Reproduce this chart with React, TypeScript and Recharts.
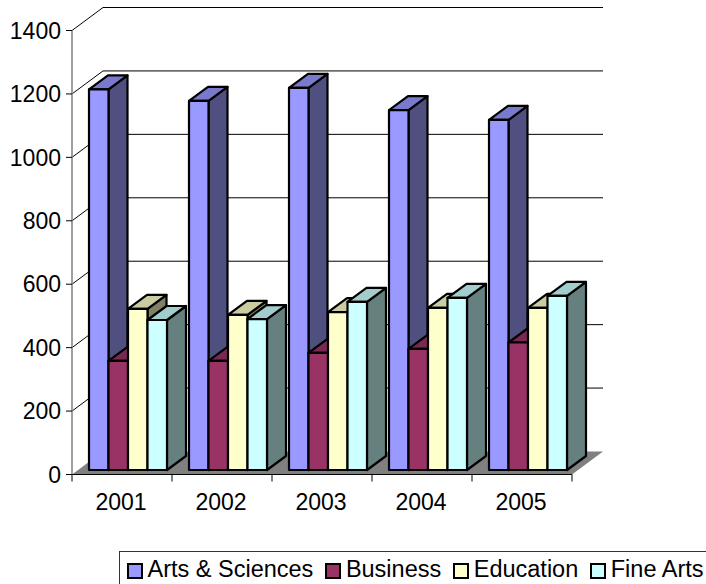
import { BarChart, Bar, XAxis, YAxis, CartesianGrid, Legend } from "recharts";

const years = ["2001", "2002", "2003", "2004", "2005"];
const artsSciences = [1200, 1164, 1205, 1135, 1104];
const business = [344, 344, 369, 382, 402];
const education = [508, 489, 498, 511, 511];
const fineArts = [473, 476, 530, 543, 549];
const yTicks = [0, 200, 400, 600, 800, 1000, 1200, 1400];

const rows = years.map((year, i) => ({
  year,
  arts: artsSciences[i],
  business: business[i],
  education: education[i],
  fine: fineArts[i],
}));

const FONT = "'Liberation Sans', Arial, sans-serif";
const BOTTOM = 474.5;

// wall depth and bar depth of the fake 3d box
const WALL_DX = 31;
const WALL_DY = -23;
const BAR_DX = 19;
const BAR_DY = -14;
const BAR_OFFSET_X = 6;
const BAR_OFFSET_Y = -4.5;

function GridLine(props: any) {
  const { x1, x2, y1 } = props;
  const isFloor = Math.abs(y1 - BOTTOM) < 1;
  return (
    <g>
      {isFloor && (
        <polygon
          points={`${x1},${y1} ${x2},${y1} ${x2 + WALL_DX},${y1 + WALL_DY} ${x1 + WALL_DX},${y1 + WALL_DY}`}
          fill="#808080"
        />
      )}
      {!isFloor && (
        <path
          d={`M${x1},${y1} L${x1 + WALL_DX},${y1 + WALL_DY} L${x2 + WALL_DX},${y1 + WALL_DY}`}
          fill="none"
          stroke="#000"
          strokeWidth={1}
        />
      )}
    </g>
  );
}

function box(fill: string, top: string, side: string) {
  return function Box3d(props: any) {
    const { x, y, width, height } = props;
    const fx = x + BAR_OFFSET_X;
    const fy = y + BAR_OFFSET_Y;
    const r = fx + width;
    const b = fy + height;
    return (
      <g stroke="#000" strokeWidth={2.2} strokeLinejoin="round">
        <polygon
          points={`${r},${fy} ${r + BAR_DX},${fy + BAR_DY} ${r + BAR_DX},${b + BAR_DY} ${r},${b}`}
          fill={side}
        />
        <polygon
          points={`${fx},${fy} ${fx + BAR_DX},${fy + BAR_DY} ${r + BAR_DX},${fy + BAR_DY} ${r},${fy}`}
          fill={top}
        />
        <rect x={fx} y={fy} width={width} height={height} fill={fill} />
      </g>
    );
  };
}

function YearTick(props: any) {
  const { x, y, payload } = props;
  return (
    <g>
      <line x1={x - 50} x2={x - 50} y1={y - 8} y2={y - 1} stroke="#000" />
      {payload.index === years.length - 1 && (
        <line x1={x + 50} x2={x + 50} y1={y - 8} y2={y - 1} stroke="#000" />
      )}
      <text x={x - 1} y={y + 27} textAnchor="middle" fontFamily={FONT} fontSize={23} fill="#000">
        {payload.value}
      </text>
    </g>
  );
}

function LegendBox(props: any) {
  return (
    <div
      style={{
        position: "absolute",
        left: 119,
        top: 551,
        width: 600,
        height: 40,
        boxSizing: "border-box",
        border: "1.5px solid #333",
        background: "#fff",
        display: "flex",
        paddingLeft: 6.5,
        alignItems: "flex-start",
        fontFamily: FONT,
        fontSize: 23.5,
        lineHeight: "34px",
        color: "#000",
      }}
    >
      {props.payload.map((item: any) => (
        <div key={item.value} style={{ display: "flex", alignItems: "flex-start", marginRight: 11.5 }}>
          <span
            style={{
              width: 16,
              height: 16,
              marginTop: 11,
              marginRight: 5,
              boxSizing: "border-box",
              border: "2.5px solid #000",
              background: item.color,
            }}
          />
          <span>{item.value}</span>
        </div>
      ))}
    </div>
  );
}

export default function App() {
  return (
    <div style={{ position: "absolute", left: 0, top: 0, width: 706, height: 584, overflow: "hidden" }}>
      <BarChart
        width={706}
        height={584}
        data={rows}
        margin={{ top: 30.5, right: 134, bottom: 79.5, left: 0 }}
        barSize={19.5}
        barGap={0}
      >
        <CartesianGrid vertical={false} horizontal={GridLine} />
        <XAxis
          dataKey="year"
          height={30}
          axisLine={{ stroke: "#000", strokeWidth: 1 }}
          tickLine={false}
          tick={YearTick}
          interval={0}
        />
        <YAxis
          width={72}
          domain={[0, 1400]}
          ticks={yTicks}
          axisLine={{ stroke: "#808080", strokeWidth: 1.5 }}
          tickLine={{ stroke: "#000" }}
          tickSize={6}
          tickMargin={5}
          tick={{ fontFamily: FONT, fontSize: 23, fill: "#000" }}
        />
        <Legend content={LegendBox} wrapperStyle={{ position: "absolute", left: 0, top: 0, width: 0, height: 0 }} />
        <Bar dataKey="arts" name="Arts & Sciences" fill="#9999FF" shape={box("#9999FF", "#7A7ACC", "#4F4F80")} isAnimationActive={false} />
        <Bar dataKey="business" name="Business" fill="#993366" shape={box("#993366", "#7A2952", "#4D1A33")} isAnimationActive={false} />
        <Bar dataKey="education" name="Education" fill="#FFFFCC" shape={box("#FFFFCC", "#CCCCA3", "#808066")} isAnimationActive={false} />
        <Bar dataKey="fine" name="Fine Arts" fill="#CCFFFF" shape={box("#CCFFFF", "#A3CCCC", "#668080")} isAnimationActive={false} />
      </BarChart>
    </div>
  );
}
